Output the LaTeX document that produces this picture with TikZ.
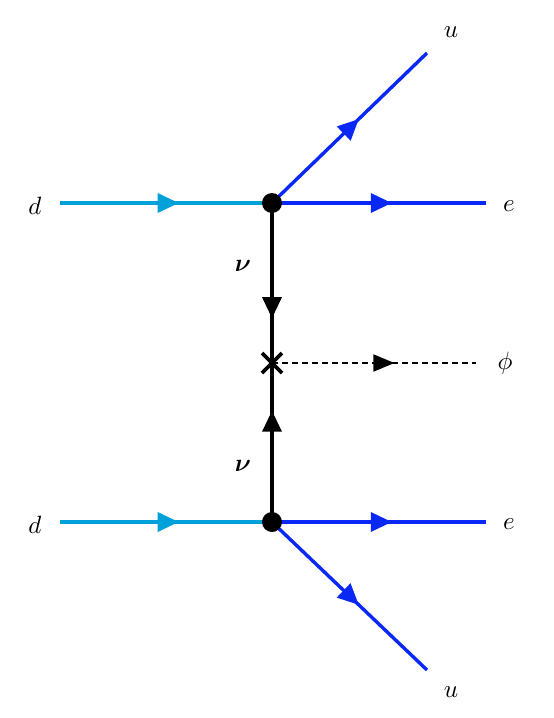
\documentclass[tikz,border=0pt]{standalone}
\usepackage{amsmath}
\usetikzlibrary{arrows.meta,decorations.markings,calc}
\definecolor{dcyan}{RGB}{0,160,218}
\definecolor{ublue}{RGB}{10,40,245}
\tikzset{
  fermion/.style={line width=3.4pt,postaction={decorate},
    decoration={markings,mark=at position #1 with {\arrow{Triangle[length=21pt,width=19pt]}}}},
  fermion/.default=0.56,
  scalarline/.style={line width=1.8pt,dash pattern=on 6pt off 4pt,postaction={decorate},
    decoration={markings,mark=at position 0.6 with {\arrow{Triangle[length=21pt,width=17pt]}}}},
  lbl/.style={inner sep=0pt,transform shape,xscale=2.5,yscale=-2.5},
}
\begin{document}
\begin{tikzpicture}[x=1pt,y=1pt,yscale=-1,xscale=1]
\useasboundingbox (0,0) rectangle (554,718);

%Vertices
\coordinate (vtop) at (272,203);
\coordinate (vbot) at (272,522);
\coordinate (cross) at (272,363);
\coordinate (dtop) at (60,203);
\coordinate (dbot) at (60,522);
\coordinate (etop) at (486,203);
\coordinate (ebot) at (486,522);
\coordinate (utop) at (427,53);
\coordinate (ubot) at (427,670);
\coordinate (phiend) at (476,363);

%Straight Lines
\draw [fermion,color=dcyan] (dtop) -- (vtop);
\draw [fermion,color=dcyan] (dbot) -- (vbot);
\draw [fermion,color=ublue] (vtop) -- (etop);
\draw [fermion,color=ublue] (vbot) -- (ebot);
\draw [fermion,color=ublue] (vtop) -- (utop);
\draw [fermion,color=ublue] (vbot) -- (ubot);
\draw [fermion=0.72] (vtop) -- (cross);
\draw [fermion=0.70] (vbot) -- (cross);
\draw [scalarline] (cross) -- (phiend);

%Shape: Circle
\fill (vtop) circle (10pt);
\fill (vbot) circle (10pt);
%Shape: Cross
\draw [line width=3.8pt] ($(cross)+(-10,-10)$) -- ($(cross)+(10,10)$);
\draw [line width=3.8pt] ($(cross)+(-10,10)$) -- ($(cross)+(10,-10)$);

% Text Node
\path (35,206) node [lbl] (ldtop) {$d$};
\path (35,525) node [lbl] (ldbot) {$d$};
\path (509,206) node [lbl] (letop) {$e$};
\path (509,524) node [lbl] (lebot) {$e$};
\path (451,32) node [lbl] (lutop) {$u$};
\path (451,692) node [lbl] (lubot) {$u$};
\path (505,363) node [lbl] (lphi) {$\phi$};
\path (243,266) node [lbl] (lnutop) {$\boldsymbol{\nu}$};
\path (243,466) node [lbl] (lnubot) {$\boldsymbol{\nu}$};
\end{tikzpicture}
\end{document}
